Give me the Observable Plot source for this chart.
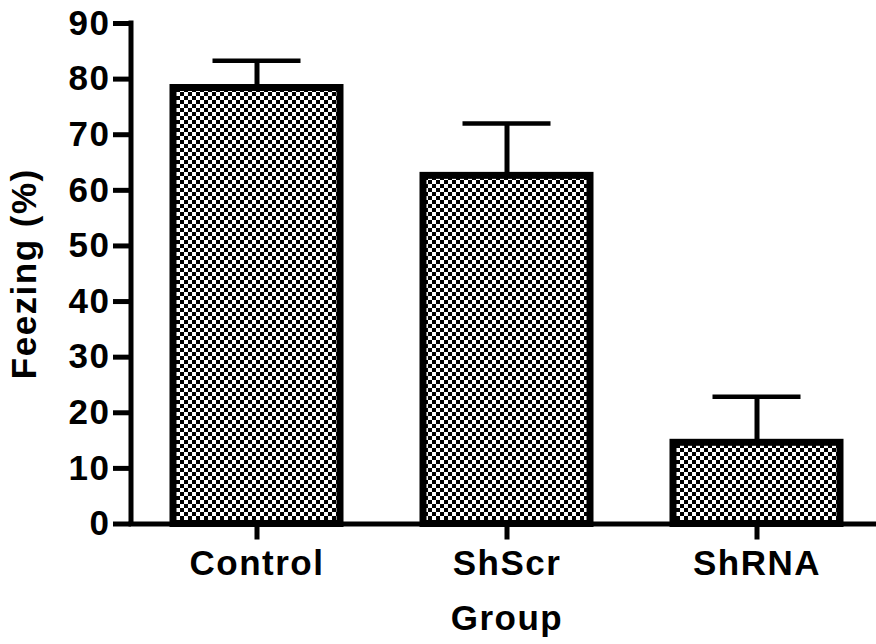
<!DOCTYPE html>
<html>
<head>
<meta charset="utf-8">
<script src="https://cdn.jsdelivr.net/npm/d3@7"></script>
<script src="https://cdn.jsdelivr.net/npm/@observablehq/plot@0.6"></script>
<style>
  html, body { margin: 0; padding: 0; background: white; }
</style>
</head>
<body>
<div id="chart"></div>
<script>
const groups = ["Control", "ShScr", "ShRNA"];
const means = [78.4, 62.6, 14.6];
const errors = [4.9, 9.4, 8.3];
const yTicks = [0, 10, 20, 30, 40, 50, 60, 70, 80, 90];
const xTitle = "Group";
const yTitle = "Feezing (%)";

const data = groups.map((g, i) => ({group: g, mean: means[i], top: means[i] + errors[i]}));

const chart = Plot.plot({
  width: 876,
  height: 644,
  marginTop: 23,
  marginBottom: 120.5,
  marginLeft: 131,
  marginRight: -6,
  style: {
    fontFamily: "'Liberation Sans', Arial, sans-serif",
    fontSize: "35px",
    fontWeight: "bold",
    letterSpacing: "1.5px",
    color: "black",
    background: "white"
  },
  x: {domain: groups, paddingInner: 0.333, paddingOuter: 0.168},
  y: {domain: [0, 90]},
  marks: [
    Plot.ruleX(data, {x: "group", y1: "mean", y2: "top", stroke: "black", strokeWidth: 5}),
    Plot.tickY(data, {x: "group", y: "top", stroke: "black", strokeWidth: 4.5, insetLeft: 39.5, insetRight: 39.5}),
    Plot.barY(data, {x: "group", y: "mean", fill: "url(#checker)", stroke: "black", strokeWidth: 7}),
    Plot.ruleY([0], {stroke: "black", strokeWidth: 5, strokeLinecap: "square"}),
    Plot.axisY(yTicks, {tickSize: 18, tickPadding: 3, strokeWidth: 5, label: yTitle, labelArrow: "none", labelAnchor: "center", labelOffset: 120, fontSize: 35}),
    Plot.axisX({tickSize: 16, tickPadding: 10.5, strokeWidth: 5, label: xTitle, labelArrow: "none", labelAnchor: "center", labelOffset: 106, fontSize: 35})
  ]
});

// checker pattern definition and y-axis domain line (positioned via Plot's y scale)
const svg = d3.select(chart);
const defs = svg.insert("defs", ":first-child");
const pat = defs.append("pattern")
  .attr("id", "checker").attr("patternUnits", "userSpaceOnUse")
  .attr("width", 8).attr("height", 8);
pat.append("rect").attr("width", 8).attr("height", 8).attr("fill", "white");
pat.append("rect").attr("width", 4).attr("height", 4).attr("fill", "black");
pat.append("rect").attr("x", 4).attr("y", 4).attr("width", 4).attr("height", 4).attr("fill", "black");

const ys = chart.scale("y");
svg.append("line")
  .attr("x1", 131).attr("x2", 131)
  .attr("y1", ys.apply(0)).attr("y2", ys.apply(90))
  .attr("stroke", "black").attr("stroke-width", 5).attr("stroke-linecap", "square");

document.getElementById("chart").appendChild(chart);
</script>
</body>
</html>
